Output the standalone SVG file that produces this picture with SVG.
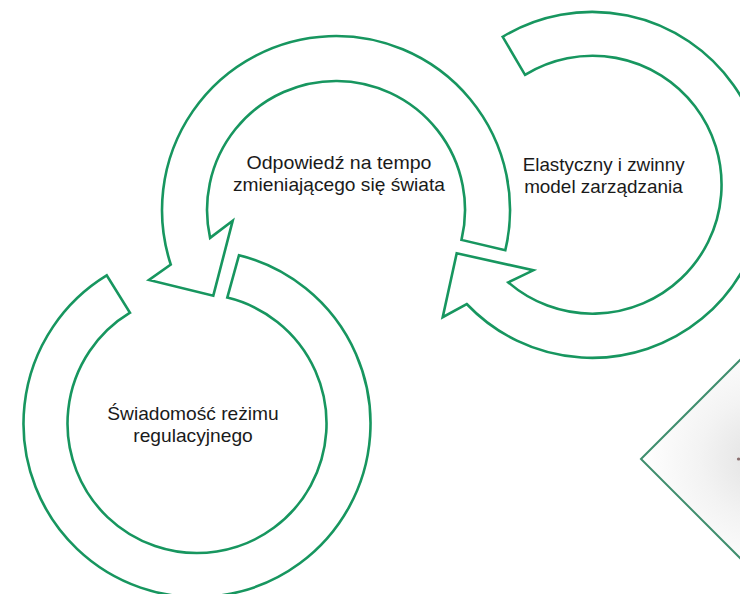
<svg xmlns="http://www.w3.org/2000/svg" width="740" height="594" viewBox="0 0 740 594">
<defs>
<style>
.ring{fill:none;stroke:#17965f;stroke-width:2.6;stroke-linejoin:miter}
.lbl{font-family:"Liberation Sans",Arial,sans-serif;font-size:18.5px;fill:#1a1a1a;text-anchor:middle}
</style>
<radialGradient id="dg" cx="760" cy="459" r="120" gradientUnits="userSpaceOnUse">
<stop offset="0" stop-color="#e2e2e2"/>
<stop offset="0.5" stop-color="#f3f3f3"/>
<stop offset="1" stop-color="#ffffff"/>
</radialGradient>
</defs>
<rect width="740" height="594" fill="#ffffff"/>
<g id="diamond">
<polygon points="641,459 760,340 879,459 760,578" fill="url(#dg)" stroke="#3f8e6e" stroke-width="2"/>
<circle cx="738.5" cy="459" r="1.6" fill="#8a6f6f"/>
</g>
<g id="connectors">
<path id="arrow-a" class="ring" d="M 505.3 250.3 A 174 174 0 1 0 170.8 264.6 L 149 280 L 213.3 295.7 L 232.7 220.7 L 210.1 237.9 A 129 129 0 1 1 461.5 239.9 Z"/>
<path id="arrow-b" class="ring" d="M 239 255.2 A 173.5 173.5 0 1 1 106.7 275.4 L 130 312.7 A 129.5 129.5 0 1 0 227.3 297.6 Z"/>
<path id="arrow-c" class="ring" d="M 502.7 36.8 A 173 173 0 1 1 466.7 304 L 442.7 317.2 L 456.7 253.3 L 533.3 270.3 L 508.3 282.4 A 129 129 0 1 0 525 74.8 Z"/>
</g>
<g id="node-odpowiedz">
<text class="lbl" x="339" y="169" textLength="185" lengthAdjust="spacingAndGlyphs">Odpowiedź na tempo</text>
<text class="lbl" x="339" y="191" textLength="212" lengthAdjust="spacingAndGlyphs">zmieniającego się świata</text>
</g>
<g id="node-swiadomosc">
<text class="lbl" x="193" y="420" textLength="171.5" lengthAdjust="spacingAndGlyphs">Świadomość reżimu</text>
<text class="lbl" x="193" y="442" textLength="119.5" lengthAdjust="spacingAndGlyphs">regulacyjnego</text>
</g>
<g id="node-elastyczny">
<text class="lbl" x="603.7" y="171" textLength="162" lengthAdjust="spacingAndGlyphs">Elastyczny i zwinny</text>
<text class="lbl" x="603.4" y="193" textLength="158.5" lengthAdjust="spacingAndGlyphs">model zarządzania</text>
</g>
</svg>
